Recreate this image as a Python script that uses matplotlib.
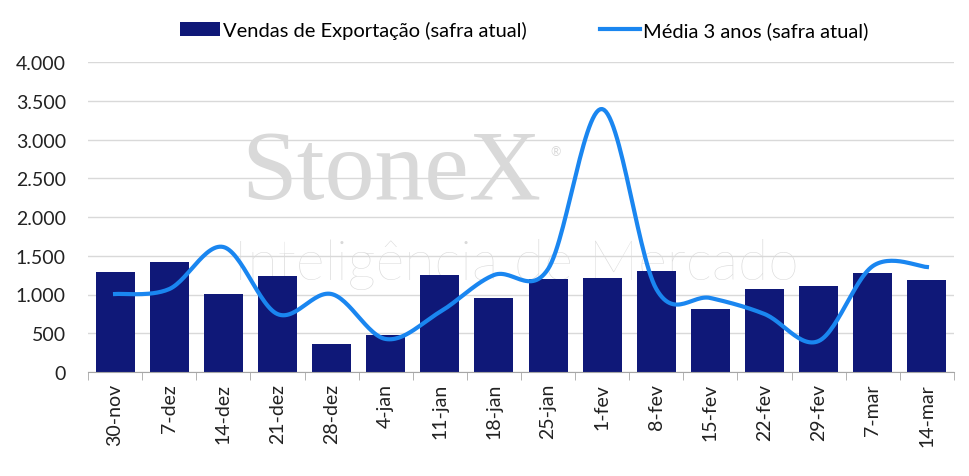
import numpy as np
import matplotlib
matplotlib.use("Agg")
import matplotlib.pyplot as plt
from matplotlib.ticker import FuncFormatter

# dados
semanas = ["30-nov", "7-dez", "14-dez", "21-dez", "28-dez", "4-jan", "11-jan", "18-jan",
           "25-jan", "1-fev", "8-fev", "15-fev", "22-fev", "29-fev", "7-mar", "14-mar"]
vendas = [1290, 1420, 1006, 1240, 361, 477, 1251, 955,
          1200, 1213, 1303, 813, 1071, 1109, 1277, 1187]
media3 = [1006, 1070, 1613, 748, 1006, 426, 774, 1251,
          1329, 3393, 1071, 955, 748, 400, 1367, 1355]

cor_barra = "#0f1878"
cor_linha = "#1a86f0"

plt.rcParams["font.family"] = ["Lato", "DejaVu Sans"]


# curva suavizada (tipo Excel, Catmull-Rom)
def Suavizar(xs, ys, n=30):
	xs = np.asarray(xs, float)
	ys = np.asarray(ys, float)
	px = np.concatenate([[xs[0]], xs, [xs[-1]]])
	py = np.concatenate([[ys[0]], ys, [ys[-1]]])
	ox, oy = [], []
	t = np.linspace(0, 1, n)
	for i in range(1, len(px) - 2):
		p0 = np.array([px[i], py[i]])
		p3 = np.array([px[i + 1], py[i + 1]])
		p1 = p0 + (np.array([px[i + 1], py[i + 1]]) - np.array([px[i - 1], py[i - 1]])) / 6
		p2 = p3 - (np.array([px[i + 2], py[i + 2]]) - np.array([px[i], py[i]])) / 6
		b = ((1 - t) ** 3)[:, None] * p0 + (3 * (1 - t) ** 2 * t)[:, None] * p1 \
			+ (3 * (1 - t) * t ** 2)[:, None] * p2 + (t ** 3)[:, None] * p3
		ox.extend(b[:, 0])
		oy.extend(b[:, 1])
	return np.array(ox), np.array(oy)
#End_Def


fig = plt.figure(figsize=(9.69, 4.77), dpi=100)
ax = fig.add_axes([88 / 969, 104 / 477, 866 / 969, 310 / 477])

x = np.arange(len(semanas))

# marca d'agua
ax.text(0.35, 0.64, "StoneX", transform=ax.transAxes, ha="center", va="center",
        fontsize=72, family="Liberation Serif", color="#d9d9d9", zorder=0)
ax.text(0.54, 0.713, "®", transform=ax.transAxes, ha="center", va="center",
        fontsize=9, color="#d9d9d9", zorder=0)
ax.text(0.495, 0.35, "Inteligência de Mercado", transform=ax.transAxes, ha="center", va="center",
        fontsize=40, family="Lato", fontweight="light", color="#d9d9d9", zorder=0)

ax.bar(x, vendas, width=0.72, color=cor_barra, zorder=2, label="Vendas de Exportação (safra atual)")
sx, sy = Suavizar(x, media3)
ax.plot(sx, sy, color=cor_linha, lw=3, zorder=3, label="Média 3 anos (safra atual)")

ax.set_xlim(-0.5, len(semanas) - 0.5)
ax.set_ylim(0, 4000)
ax.set_yticks(np.arange(0, 4001, 500))
ax.yaxis.set_major_formatter(FuncFormatter(lambda v, p: f"{int(v):,}".replace(",", ".")))
ax.grid(axis="y", color="#d9d9d9", lw=1, zorder=0)
ax.set_axisbelow(True)

ax.set_xticks(x)
ax.set_xticklabels(semanas, rotation=90)
ax.set_xticks(np.arange(-0.5, len(semanas), 1), minor=True)
ax.tick_params(axis="x", which="major", length=0, pad=8, labelsize=14, labelcolor="#222222")
ax.tick_params(axis="x", which="minor", length=6, color="#a6a6a6")
ax.tick_params(axis="y", length=0, pad=16, labelsize=14, labelcolor="#222222")

for s in ["top", "right", "left"]:
	ax.spines[s].set_visible(False)
ax.spines["bottom"].set_color("#a6a6a6")

h, l = ax.get_legend_handles_labels()
ordem = [l.index("Vendas de Exportação (safra atual)"), l.index("Média 3 anos (safra atual)")]
fig.legend([h[i] for i in ordem], [l[i] for i in ordem], loc="center",
           bbox_to_anchor=(0.541, 1 - 31 / 477), ncol=2, frameon=False,
           fontsize=14.5, handlelength=2, handletextpad=0.15, columnspacing=3.6)

fig.savefig("out.png", dpi=100)
